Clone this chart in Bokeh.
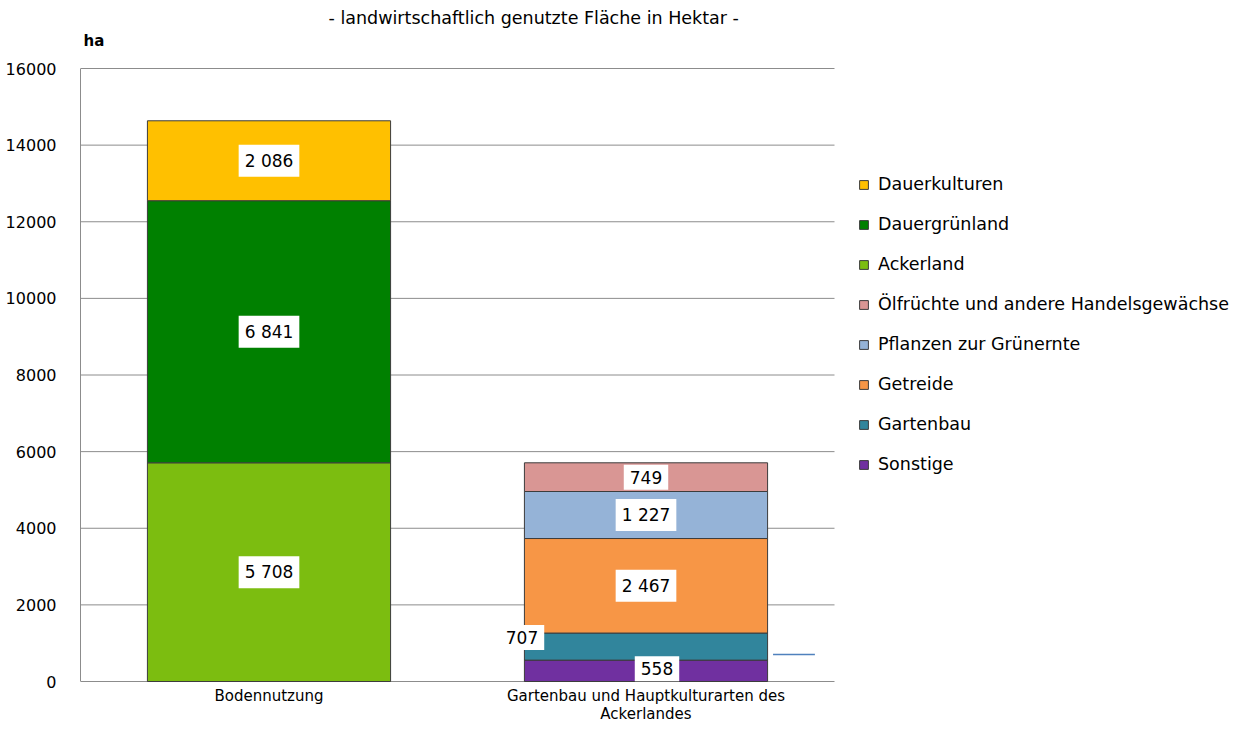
from bokeh.plotting import figure
from bokeh.models import Range1d, ColumnDataSource, Label, Legend, LegendItem
from bokeh.embed import file_html
from bokeh.resources import INLINE

categories = ["Bodennutzung", "Gartenbau und Hauptkulturarten des\nAckerlandes"]

boden_series = ["Ackerland", "Dauergrünland", "Dauerkulturen"]
boden_values = [5708, 6841, 2086]
boden_colors = ["#7CBD10", "#008000", "#FFC000"]

garten_series = ["Sonstige", "Gartenbau", "Getreide", "Pflanzen zur Grünernte",
                 "Ölfrüchte und andere Handelsgewächse"]
garten_values = [558, 707, 2467, 1227, 749]
garten_colors = ["#7030A0", "#31859C", "#F79646", "#95B3D7", "#D99694"]

y_ticks = [0, 2000, 4000, 6000, 8000, 10000, 12000, 14000, 16000]
title_text = "- landwirtschaftlich genutzte Fläche in Hektar -"
unit_text = "ha"

FONT = "DejaVu Sans"
GRID = "#8c8c8c"

# layout geometry (pixels)
W, H = 1232, 722
LEFT = 80
PX_PER_CAT = 377.0
Y0_PX, Y16_PX = 681, 68             # pixel rows of value 0 and 16000
ppv = (Y0_PX - Y16_PX) / 16000.0    # pixels per value unit

x_end = (W - LEFT) / PX_PER_CAT
y_start = -(H - Y0_PX) / ppv
y_end = 16000 + Y16_PX / ppv

p = figure(x_range=Range1d(0, x_end), y_range=Range1d(y_start, y_end),
           width=W, height=H, output_backend="svg", toolbar_location=None,
           min_border_left=LEFT, min_border_right=0, min_border_top=0, min_border_bottom=0)
p.outline_line_color = None
p.background_fill_color = "white"
p.xaxis.visible = False
p.xgrid.visible = False
p.ygrid.visible = False

xs = [i + 0.5 for i in range(len(categories))]

# grid lines (drawn at the tick values, across the category area)
p.segment(x0=[0] * len(y_ticks), x1=[len(categories)] * len(y_ticks), y0=y_ticks, y1=y_ticks,
          line_color=GRID, line_width=1)

src1 = ColumnDataSource(dict(x=[xs[0]], **{s: [v] for s, v in zip(boden_series, boden_values)}))
src2 = ColumnDataSource(dict(x=[xs[1]], **{s: [v] for s, v in zip(garten_series, garten_values)}))

r1 = p.vbar_stack(boden_series, x="x", width=0.645, source=src1,
                  fill_color=boden_colors, line_color="#3c3c3c", line_width=1)
r2 = p.vbar_stack(garten_series, x="x", width=0.645, source=src2,
                  fill_color=garten_colors, line_color="#3c3c3c", line_width=1)

# data labels
def add_labels(xc, values, offsets):
    base = 0
    for v, (dx, dy) in zip(values, offsets):
        mid = base + v / 2
        base += v
        p.add_layout(Label(x=xc, y=mid, text=f"{v:,}".replace(",", " "),
                           x_offset=dx, y_offset=dy,
                           text_font=FONT, text_font_size="17px", text_color="black",
                           text_align="center", text_baseline="middle",
                           background_fill_color="white", padding=6))

add_labels(xs[0], boden_values, [(0, 0)] * 3)
add_labels(xs[1], garten_values, [(11, 2), (-124, 9), (0, 0), (0, 0), (0, 0)])

# small leader line next to the second bar
p.segment(x0=[xs[1] + 0.337], x1=[xs[1] + 0.448], y0=[garten_values[1]], y1=[garten_values[1]],
          line_color="#4F81BD", line_width=1.5)

# y axis
p.yaxis.ticker = y_ticks
p.yaxis.bounds = (0, 16000)
p.yaxis.axis_line_color = GRID
p.yaxis.major_tick_line_color = None
p.yaxis.minor_tick_line_color = None
p.yaxis.major_label_text_font = FONT
p.yaxis.major_label_text_color = "black"
p.yaxis.major_label_text_font_size = "16px"
p.yaxis.major_label_standoff = 18

# category labels
for xc, cat in zip(xs, categories):
    p.add_layout(Label(x=xc, y=0, y_offset=-5, text=cat, text_font=FONT, text_font_size="15px",
                       text_color="black", text_align="center", text_baseline="top",
                       text_line_height=1.0))

# title and unit
p.add_layout(Label(x=(328 - LEFT) / PX_PER_CAT, y=16000, y_offset=Y16_PX - 17, text=title_text,
                   text_font=FONT, text_font_size="17.5px", text_color="black",
                   text_align="left", text_baseline="middle"))
p.add_layout(Label(x=3 / PX_PER_CAT, y=16000, y_offset=Y16_PX - 40, text=unit_text,
                   text_font=FONT, text_font_size="15px", text_font_style="bold",
                   text_color="black", text_align="left", text_baseline="middle"))

# legend
rmap = dict(zip(boden_series, r1))
rmap.update(dict(zip(garten_series, r2)))
legend_order = ["Dauerkulturen", "Dauergrünland", "Ackerland",
                "Ölfrüchte und andere Handelsgewächse", "Pflanzen zur Grünernte",
                "Getreide", "Gartenbau", "Sonstige"]
legend = Legend(items=[LegendItem(label=s, renderers=[rmap[s]]) for s in legend_order],
                location=(858 - LEFT, H - 474), glyph_width=11, glyph_height=11, label_standoff=9,
                spacing=20, label_height=20, padding=0, margin=0,
                label_text_font=FONT, label_text_font_size="17.5px", label_text_color="black",
                border_line_alpha=0, background_fill_alpha=0)
p.add_layout(legend)

open("out.html", "w").write(file_html(p, INLINE))
